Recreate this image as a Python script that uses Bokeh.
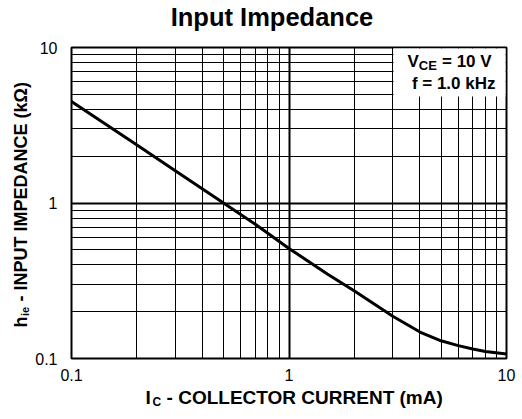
import math
from bokeh.plotting import figure
from bokeh.models import FixedTicker, Label, BoxAnnotation
from bokeh.embed import file_html
from bokeh.resources import INLINE

# ---- data ----
ic_ma = [0.1, 0.2, 0.3, 0.5, 0.7, 1.0, 1.5, 2.0, 3.0, 4.0, 5.0, 6.0, 7.0, 8.0, 10.0]
hie_kohm = [4.5, 2.36, 1.61, 1.0, 0.73, 0.51, 0.35, 0.272, 0.187, 0.148, 0.130, 0.121, 0.115, 0.111, 0.107]

major_ticks = [0.1, 1, 10]
minor_ticks = [0.2, 0.3, 0.4, 0.5, 0.6, 0.7, 0.8, 0.9, 2, 3, 4, 5, 6, 7, 8, 9]
tick_labels = {0.1: "0.1", 1: "1", 10: "10"}

FONT = "Liberation Sans"
NB = "\u00a0"
SHIFT = 0.33  # label anchor sits ~0.33em above the glyph baseline

p = figure(width=522, height=419, x_axis_type="log", y_axis_type="log",
           x_range=(0.1, 10), y_range=(0.1, 10), title=None,
           output_backend="svg", toolbar_location=None,
           min_border_left=71, min_border_right=16, min_border_top=47, min_border_bottom=61)

p.outline_line_color = "black"
p.outline_line_width = 2
p.background_fill_color = "white"
p.border_fill_color = "white"

for ax in (p.xaxis, p.yaxis):
    ax.ticker = FixedTicker(ticks=major_ticks, minor_ticks=minor_ticks)
    ax.major_label_overrides = tick_labels
    ax.axis_line_color = None
    ax.major_tick_line_color = None
    ax.minor_tick_line_color = None
    ax.major_label_text_font = FONT
    ax.major_label_text_font_size = "16px"
    ax.major_label_text_color = "black"
p.xaxis.major_label_standoff = 4
p.yaxis.major_label_standoff = 8

for g in (p.xgrid, p.ygrid):
    g.grid_line_color = "black"
    g.grid_line_width = 2
    g.minor_grid_line_color = "black"
    g.minor_grid_line_width = 1

p.line(ic_ma, hie_kohm, line_width=3, line_color="black", line_join="round", line_cap="round")

# legend box covering the grid
p.add_layout(BoxAnnotation(left=393, right=505, top=48, bottom=96,
                           left_units="canvas", right_units="canvas",
                           top_units="canvas", bottom_units="canvas",
                           fill_color="white", fill_alpha=1, line_color=None))


def lab(text, x, y, size, bold=True, align="left", angle=0.0, place="center"):
    # (x, y): start of the text on its baseline, in canvas pixels
    if angle:
        x = x - SHIFT * size
    else:
        y = y - SHIFT * size
    p.add_layout(Label(x=x, y=y, x_units="canvas", y_units="canvas", text=text,
                       text_font=FONT, text_font_size=f"{size}px",
                       text_font_style="bold" if bold else "normal",
                       text_align=align, text_baseline="alphabetic", angle=angle,
                       text_color="black"), place)


# title
lab("Input Impedance", 271.5, 25, 25.5, align="center", place="above")

# x axis label: I_C - COLLECTOR CURRENT (mA)
lab("I" + NB * 3 + "- COLLECTOR CURRENT (mA)", 145, 403, 19, place="below")
lab("C", 152, 405.5, 12, place="right")

# y axis label (rotated): h_ie - INPUT IMPEDANCE (kOhm)
lab("h" + NB * 3 + "- INPUT IMPEDANCE (k\u03a9)", 26.5, 327, 18, angle=math.pi / 2, place="left")
lab("ie", 28, 315.5, 11, angle=math.pi / 2, place="left")

# legend text
lab("V", 407, 66.5, 17)
lab("CE", 418.3, 69, 13)
lab("= 10 V", 441.5, 66.5, 17)
lab("f = 1.0 kHz", 495, 89, 17, align="right")

open("out.html", "w").write(file_html(p, INLINE))
